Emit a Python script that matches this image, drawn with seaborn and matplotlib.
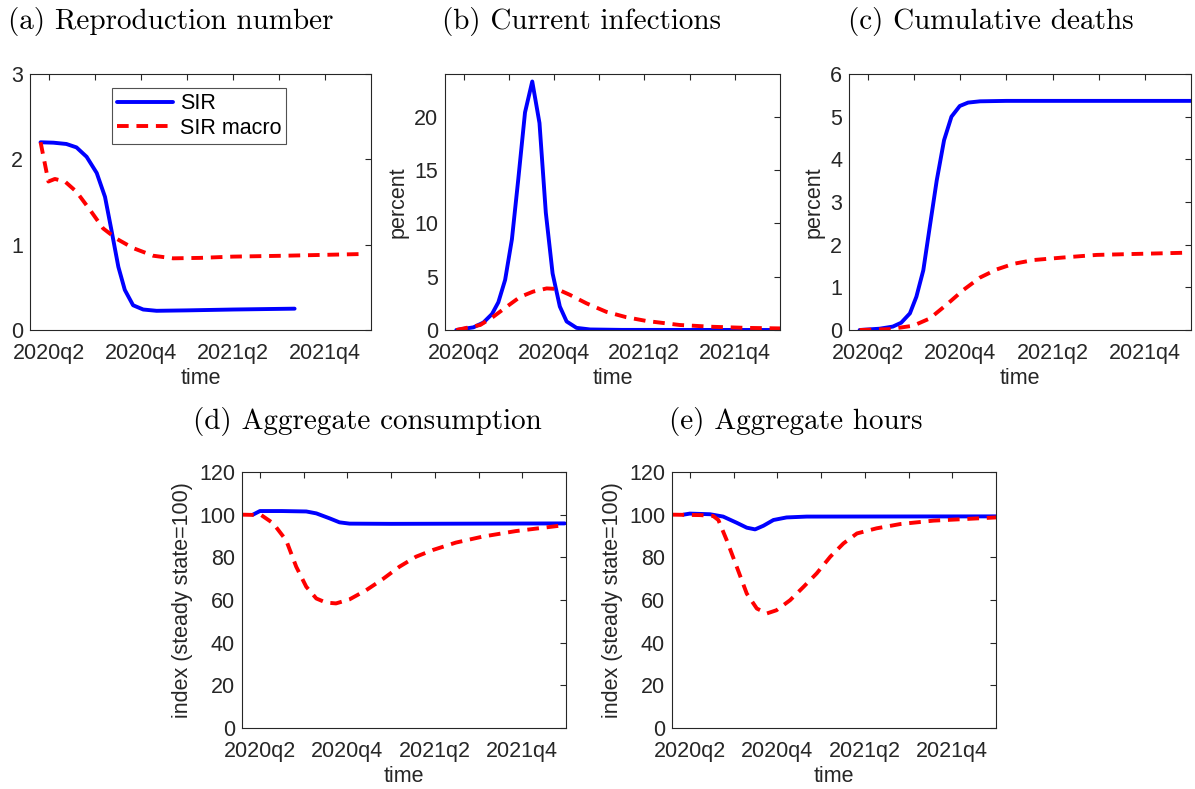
import matplotlib
matplotlib.use("Agg")
import matplotlib.pyplot as plt
import seaborn as sns

# ---------------- data (x in quarters, 0 = 2020q2) ----------------
quarter_ticks = [0, 1, 2, 3, 4, 5, 6]
quarter_labels = ["2020q2", "", "2020q4", "", "2021q2", "", "2021q4"]

a_sir_t = [-0.18, 0.1, 0.38, 0.6, 0.82, 1.04, 1.22, 1.36, 1.51, 1.65, 1.83, 2.05, 2.34, 3.0, 4.0, 5.34]
a_sir_v = [2.20, 2.195, 2.18, 2.14, 2.03, 1.84, 1.56, 1.17, 0.74, 0.47, 0.29, 0.24, 0.225, 0.23, 0.24, 0.25]
a_mac_t = [-0.18, -0.01, 0.13, 0.35, 0.6, 0.89, 1.18, 1.47, 1.83, 2.27, 2.70, 3.28, 4.0, 5.09, 6.78]
a_mac_v = [2.20, 1.74, 1.77, 1.74, 1.62, 1.41, 1.19, 1.07, 0.96, 0.87, 0.84, 0.845, 0.86, 0.87, 0.89]

b_sir_t = [-0.16, 0.22, 0.44, 0.63, 0.77, 0.92, 1.07, 1.21, 1.36, 1.52, 1.68, 1.82, 1.97, 2.13, 2.28, 2.5, 2.8, 3.5, 7.0]
b_sir_v = [0.0, 0.25, 0.7, 1.5, 2.6, 4.7, 8.5, 14.1, 20.4, 23.3, 19.4, 11.0, 5.3, 2.2, 0.8, 0.2, 0.05, 0.01, 0.0]
b_mac_t = [-0.16, 0.37, 0.66, 0.96, 1.25, 1.54, 1.84, 2.06, 2.35, 2.72, 3.16, 3.6, 4.04, 4.78, 5.51, 6.25, 7.0]
b_mac_v = [0.0, 0.47, 1.25, 2.2, 3.1, 3.6, 3.9, 3.85, 3.3, 2.5, 1.7, 1.2, 0.85, 0.47, 0.3, 0.2, 0.15]

c_sir_t = [-0.18, 0.25, 0.54, 0.72, 0.91, 1.05, 1.2, 1.34, 1.49, 1.65, 1.81, 1.99, 2.17, 2.43, 3.0, 7.0]
c_sir_v = [0.0, 0.03, 0.08, 0.17, 0.39, 0.78, 1.4, 2.42, 3.5, 4.45, 5.0, 5.25, 5.33, 5.36, 5.37, 5.37]
c_mac_t = [-0.18, 0.47, 0.98, 1.34, 1.70, 2.07, 2.43, 2.79, 3.15, 3.59, 4.24, 4.96, 5.69, 6.85]
c_mac_v = [0.0, 0.02, 0.1, 0.27, 0.59, 0.94, 1.23, 1.42, 1.55, 1.64, 1.70, 1.76, 1.78, 1.81]

d_sir_t = [-0.16, 0.0, 0.5, 1.06, 1.29, 1.59, 1.82, 2.05, 3.0, 5.0, 6.97]
d_sir_v = [100, 101.7, 101.7, 101.5, 100.6, 98.3, 96.4, 95.8, 95.7, 95.8, 95.9]
d_mac_t = [-0.41, 0.03, 0.30, 0.6, 0.83, 1.06, 1.29, 1.51, 1.74, 2.05, 2.43, 2.81, 3.19, 3.57, 3.95, 4.48, 5.09, 5.85, 6.97]
d_mac_v = [100, 99.8, 96, 88, 75.6, 66.2, 60.7, 58.8, 58.4, 60.3, 64.6, 69.8, 75.6, 80.3, 83.4, 86.9, 89.7, 92.3, 95.1]

e_sir_t = [-0.15, 0.0, 0.46, 0.76, 1.07, 1.30, 1.49, 1.68, 1.91, 2.21, 2.67, 7.0]
e_sir_v = [100, 100.5, 100.2, 99.1, 96.2, 93.9, 93.1, 94.8, 97.5, 98.7, 99.1, 99.2]
e_mac_t = [-0.4, 0.23, 0.53, 0.65, 0.84, 1.07, 1.30, 1.53, 1.76, 1.98, 2.29, 2.60, 2.90, 3.21, 3.51, 3.82, 4.27, 4.81, 5.57, 7.0]
e_mac_v = [100, 99.8, 99.4, 97.5, 88.1, 75.6, 63, 56, 53.7, 55.2, 59.9, 66.2, 72.5, 80.3, 86.5, 91.2, 93.6, 95.6, 97.2, 98.7]

titles = ["(a) Reproduction number", "(b) Current infections", "(c) Cumulative deaths",
          "(d) Aggregate consumption", "(e) Aggregate hours"]
ylabels = ["", "percent", "percent", "index (steady state=100)", "index (steady state=100)"]
yticks = [[0, 1, 2, 3], [0, 5, 10, 15, 20], [0, 1, 2, 3, 4, 5, 6],
          [0, 20, 40, 60, 80, 100, 120], [0, 20, 40, 60, 80, 100, 120]]
ylims = [(0, 3), (0, 24), (0, 6), (0, 120), (0, 120)]
series_names = ["SIR", "SIR macro"]

# ---------------- style ----------------
sns.set_theme(style="white")
plt.rcParams["font.family"] = ["Liberation Sans", "DejaVu Sans"]
FG = "#262626"
W, H = 1195, 789
fig = plt.figure(figsize=(W / 100, H / 100), dpi=100)

boxes = [(30, 74, 371, 330), (445, 74, 780, 330), (849, 74, 1191, 330),
         (242, 472, 566, 728), (672, 472, 996, 728)]
title_pos = [(171, 22), (582, 22), (991, 22), (367, 421), (796, 421)]

data = [(a_sir_t, a_sir_v, a_mac_t, a_mac_v), (b_sir_t, b_sir_v, b_mac_t, b_mac_v),
        (c_sir_t, c_sir_v, c_mac_t, c_mac_v), (d_sir_t, d_sir_v, d_mac_t, d_mac_v),
        (e_sir_t, e_sir_v, e_mac_t, e_mac_v)]

FS = 15.5
for i, (x0, y0, x1, y1) in enumerate(boxes):
    ax = fig.add_axes([x0 / W, (H - y1) / H, (x1 - x0) / W, (y1 - y0) / H])
    st, sv, mt, mv = data[i]
    sns.lineplot(x=st, y=sv, ax=ax, color="#0000ff", lw=2.8, sort=False,
                 estimator=None, label=series_names[0])
    sns.lineplot(x=mt, y=mv, ax=ax, color="#ff0000", lw=2.8, sort=False,
                 estimator=None, label=series_names[1])
    ax.lines[1].set_dashes((3.0, 2.0))
    ax.set_xlim(-0.41, 7.0)
    ax.set_ylim(*ylims[i])
    ax.set_xticks(quarter_ticks)
    ax.set_xticklabels(quarter_labels)
    ax.set_yticks(yticks[i])
    ax.tick_params(direction="in", length=4, width=0.8, top=True, right=True,
                   labelsize=FS, colors=FG)
    ax.tick_params(axis="x", pad=9)
    ax.tick_params(axis="y", pad=5)
    for s in ax.spines.values():
        s.set_color(FG)
        s.set_linewidth(0.8)
    ax.set_xlabel("time", fontsize=FS, color=FG, labelpad=3)
    ax.set_ylabel(ylabels[i], fontsize=FS, color=FG, labelpad=4)
    if i == 0:
        leg = ax.legend(loc="upper center", bbox_to_anchor=(0.496, 0.945), fontsize=FS,
                        frameon=True, fancybox=False, edgecolor=FG, handlelength=2.6,
                        borderpad=0.25, labelspacing=0.15, handletextpad=0.3,
                        borderaxespad=0)
        leg.get_frame().set_linewidth(0.8)
        for t in leg.get_texts():
            t.set_color("black")
    else:
        ax.get_legend().remove()
    fig.text(title_pos[i][0] / W, 1 - title_pos[i][1] / H, titles[i], family="cmr10",
             fontsize=21, ha="center", va="center", color="black")

fig.savefig("out.png", dpi=100)
